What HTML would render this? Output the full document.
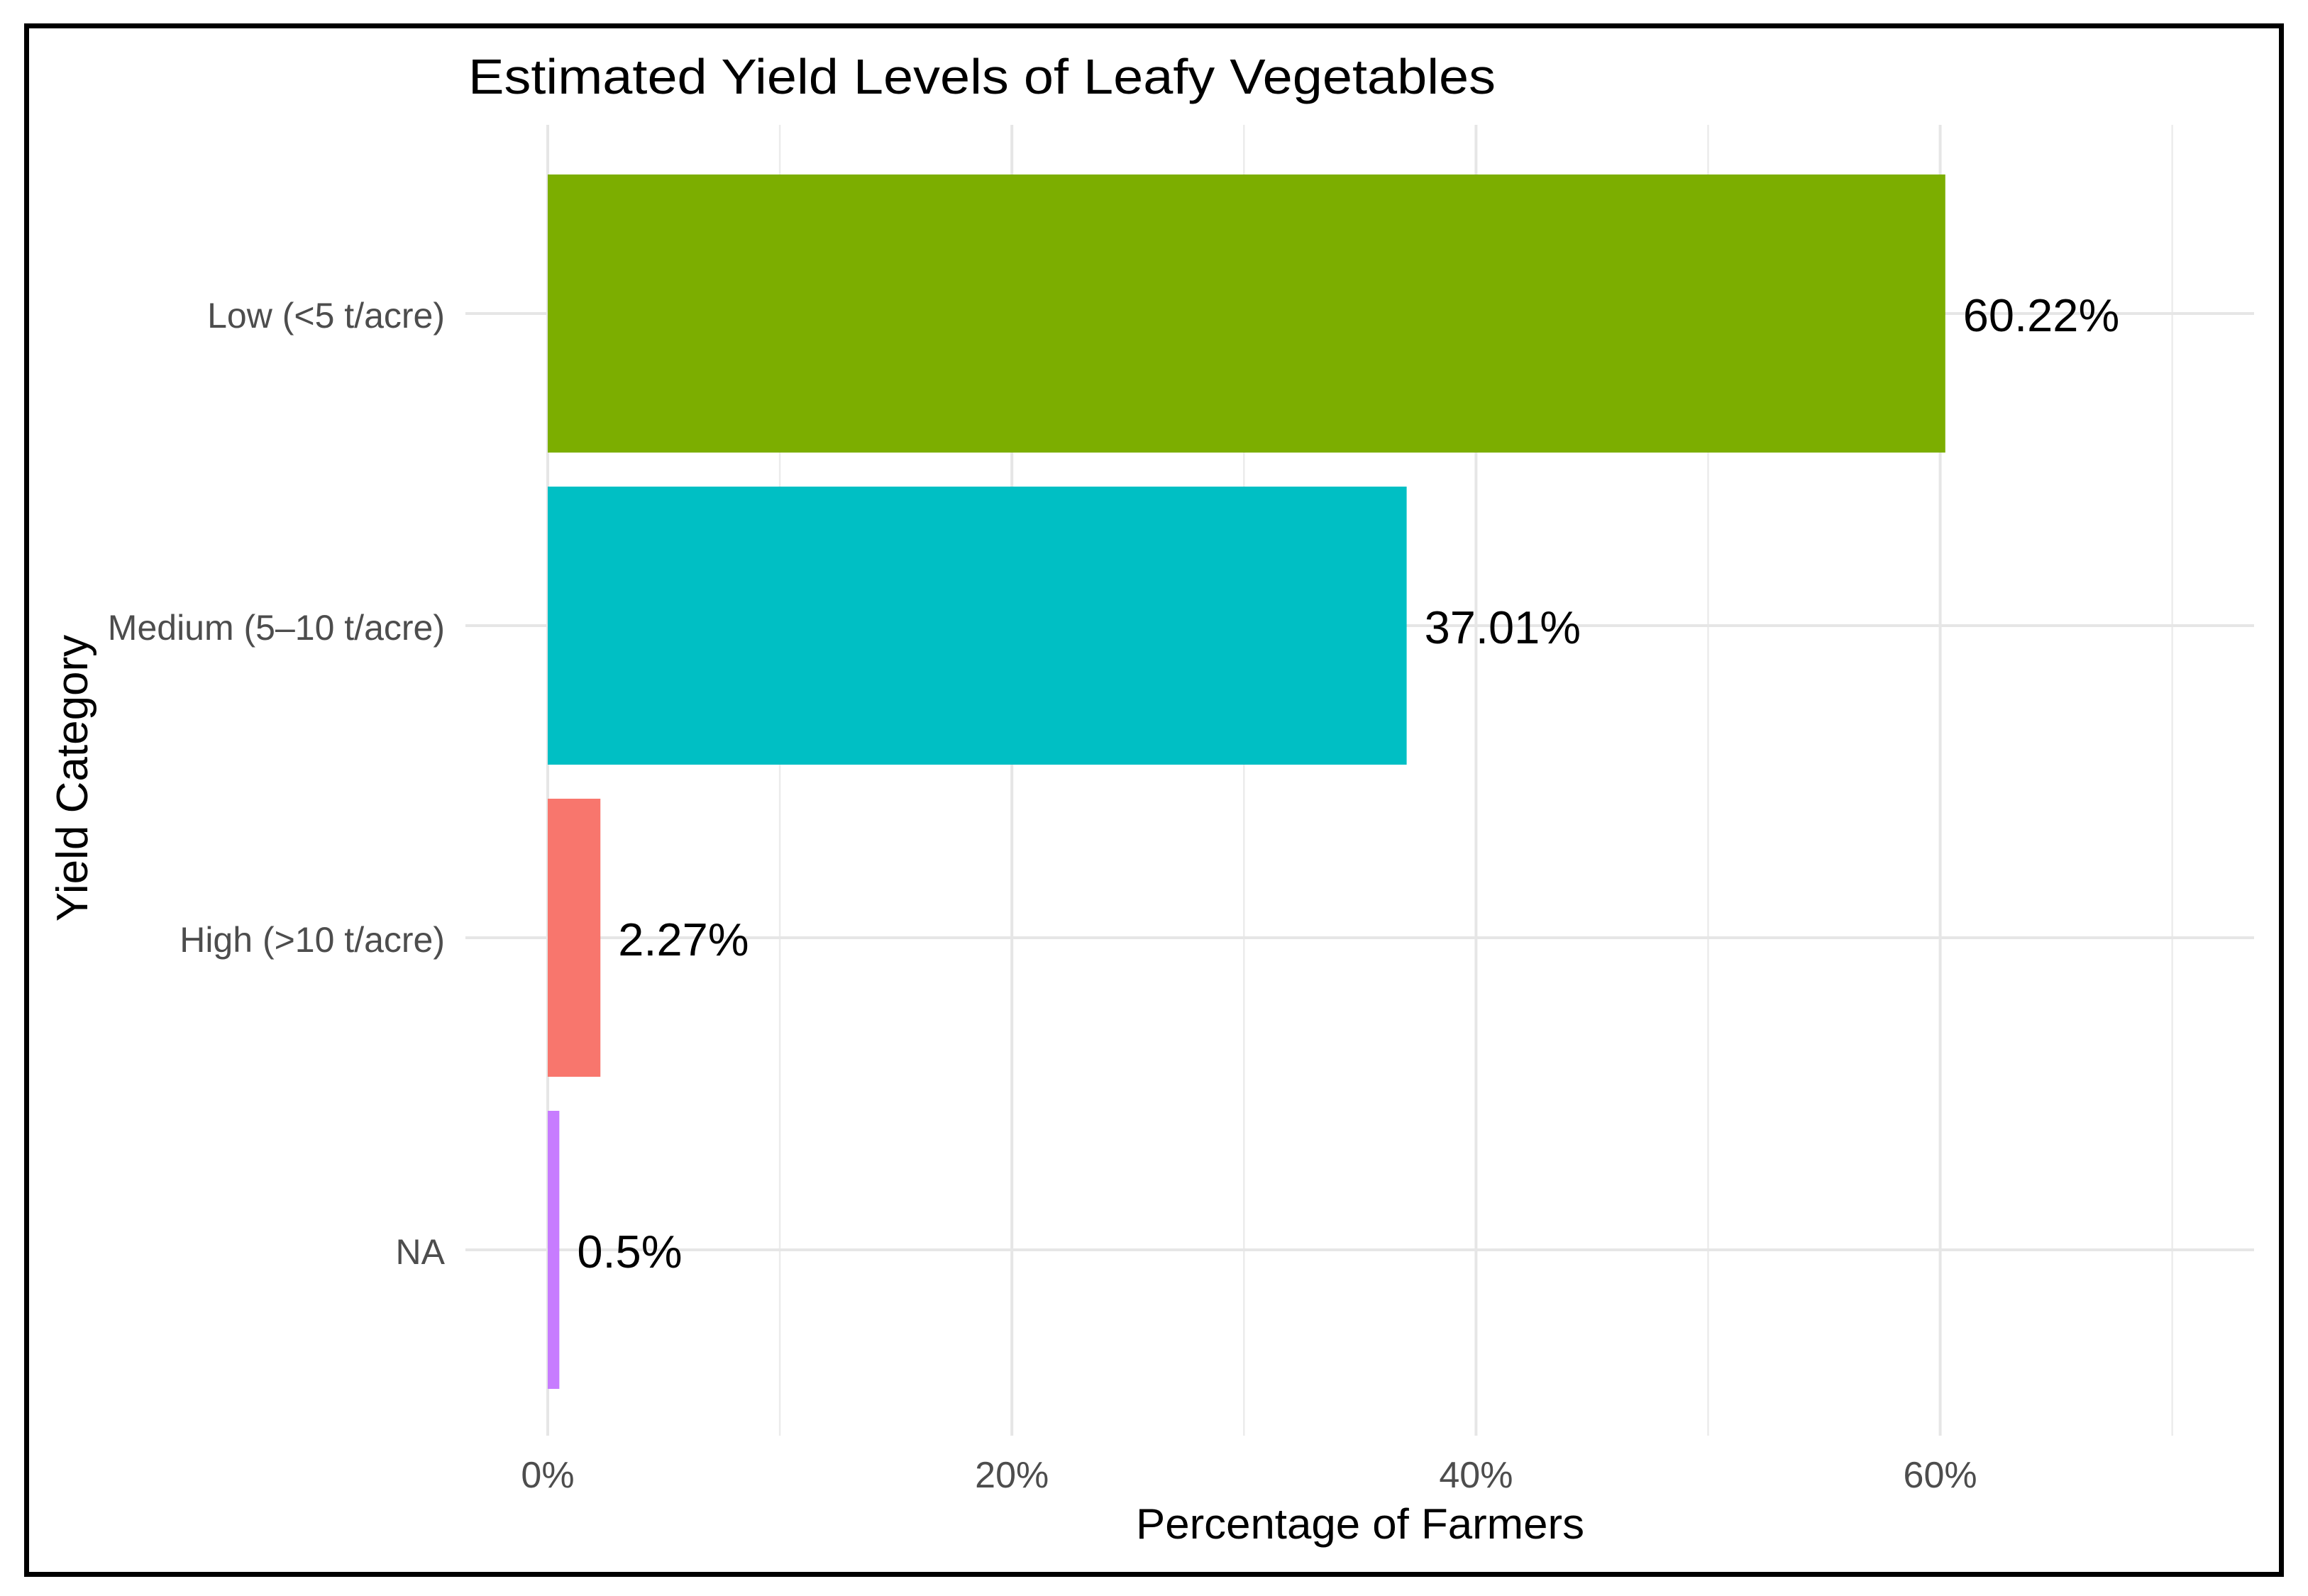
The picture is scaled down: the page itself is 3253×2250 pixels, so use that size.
<!DOCTYPE html>
<html><head><meta charset="utf-8"><style>
html,body{margin:0;padding:0;background:#fff;}
svg{display:block;font-family:"Liberation Sans",Arial,sans-serif;}
</style></head><body>
<svg id="chart" width="3253" height="2250" viewBox="0 0 3253 2250" xmlns="http://www.w3.org/2000/svg">
<rect x="0" y="0" width="3253" height="2250" fill="#fff"/>
<g id="grid"></g>
<g id="bars"></g>
<g id="labels"></g>
<text x="660" y="132" font-size="70" fill="#000" textLength="1448" lengthAdjust="spacingAndGlyphs">Estimated Yield Levels of Leafy Vegetables</text>
<text x="1917" y="2169" font-size="60" fill="#000" text-anchor="middle" textLength="632" lengthAdjust="spacingAndGlyphs">Percentage of Farmers</text>
<text transform="translate(123,1097) rotate(-90)" font-size="62" fill="#000" text-anchor="middle">Yield Category</text>
<rect x="37.5" y="36.5" width="3178" height="2183" fill="none" stroke="#000" stroke-width="7"/>
</svg>
<script>
const categories = ["Low (<5 t/acre)", "Medium (5–10 t/acre)", "High (>10 t/acre)", "NA"];
const values = [60.22, 37.01, 2.27, 0.5];
const valueLabels = ["60.22%", "37.01%", "2.27%", "0.5%"];
const colors = ["#7CAE00", "#00BFC4", "#F8766D", "#C77CFF"];
const xTicks = [0, 20, 40, 60];
const xTickLabels = ["0%", "20%", "40%", "60%"];
const xMinor = [10, 30, 50, 70];

const NS = "http://www.w3.org/2000/svg";
const X0 = 772, PX = 32.71;
const gridTop = 176, gridBottom = 2024, gridLeft = 656, gridRight = 3177;
const Y0 = 442, BAND = 440, BARH = 392;
function xs(v){ return X0 + v * PX; }
function ys(i){ return Y0 + i * BAND; }
function mk(tag, attrs, parent){ const e = document.createElementNS(NS, tag); for (const k in attrs) e.setAttribute(k, attrs[k]); parent.appendChild(e); return e; }

const grid = document.getElementById("grid");
const bars = document.getElementById("bars");
const labels = document.getElementById("labels");

xMinor.forEach(v => {
  const l = mk("line", {x1: xs(v), x2: xs(v), y1: gridTop, y2: gridBottom, stroke: "#ececec", "stroke-width": 2.5}, grid);
  
  
});
xTicks.forEach((v, i) => {
  const l = mk("line", {x1: xs(v), x2: xs(v), y1: gridTop, y2: gridBottom, stroke: "#e6e6e6", "stroke-width": 4}, grid);
  
  
  const t = mk("text", {x: xs(v), y: 2097, "font-size": 52, fill: "#4D4D4D", "text-anchor": "middle"}, labels);
  t.textContent = xTickLabels[i];
  
  
});
categories.forEach((c, i) => {
  const y = ys(i);
  const l = mk("line", {x1: gridLeft, x2: gridRight, y1: y, y2: y, stroke: "#e6e6e6", "stroke-width": 4}, grid);
  
  
  const r = mk("rect", {x: xs(0), y: y - BARH/2, width: xs(values[i]) - xs(0), height: BARH, fill: colors[i]}, bars);
  
  
  const t = mk("text", {x: 627, y: y + 20, "font-size": 50, fill: "#4D4D4D", "text-anchor": "end"}, labels);
  t.textContent = c;
  
  
  const vl = mk("text", {x: xs(values[i]) + 25, y: y + 25, "font-size": 65, fill: "#000"}, labels);
  vl.textContent = valueLabels[i];
  
  
});
</script>
</body></html>
